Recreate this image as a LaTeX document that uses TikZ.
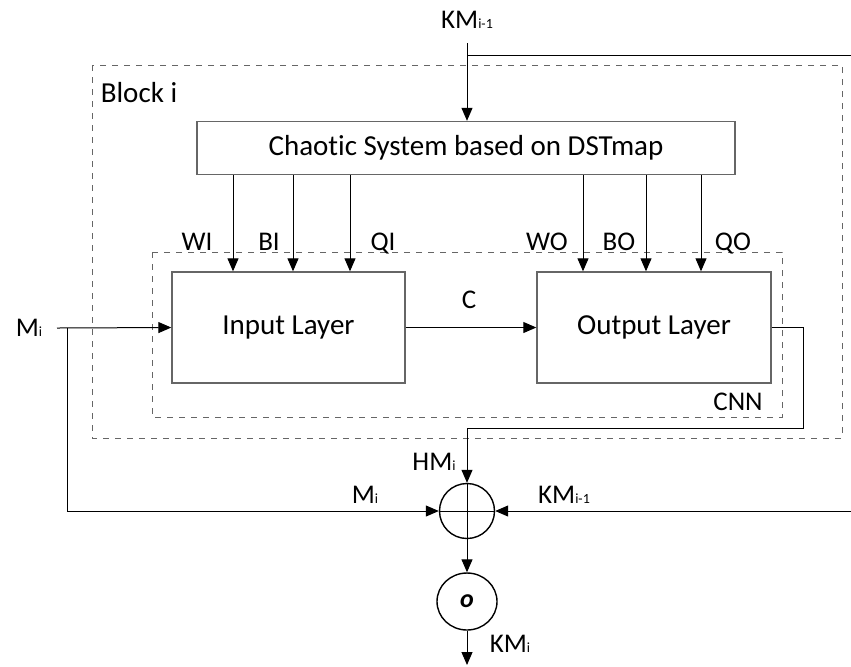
\documentclass[tikz,border=0pt]{standalone}
\usepackage{fontspec}
\setmainfont[RawFeature={-liga,-clig,-calt,-dlig}]{Carlito}
\usetikzlibrary{arrows.meta,shapes.geometric}

\newcommand{\subi}[1]{{\fontsize{7}{8}\selectfont #1}}

\tikzset{
  box/.style={draw=black!60, line width=0.7pt, rectangle, font=\fontsize{14.5}{17}\selectfont},
  group/.style={draw=black!60, dashed, line width=0.5pt},
  arr/.style={-{Triangle[length=6.5pt, width=5.5pt]}, line width=0.5pt},
  wire/.style={line width=0.5pt},
  lab/.style={font=\fontsize{13.5}{16}\selectfont, inner sep=0pt, anchor=base}
}

\begin{document}
\begin{tikzpicture}[x=0.5pt, y=-0.5pt]
  \useasboundingbox (0,0) rectangle (851,666);

  %% Dashed frames: Block i and CNN
  \draw[group] (92,65) rectangle (842,438);
  \draw[group] (152,252) rectangle (782,417);
  \node[lab, font=\fontsize{14.5}{17}\selectfont] (blk) at (139,102) {Block i};
  \node[lab] (cnnlab) at (738,410) {CNN};

  %% Boxes
  \node[box, minimum width=269pt, minimum height=26.5pt] (chaos) at (466,148) {Chaot\kern0pt ic System based on DSTmap};
  \node[box, minimum width=116.5pt, minimum height=55.5pt] (inl) at (288.5,327.5) {Input Layer};
  \node[box, minimum width=117pt, minimum height=55.5pt] (outl) at (654,327.5) {Output Layer};

  %% Combining nodes
  \node[draw, circle, line width=0.7pt, minimum size=27.5pt, inner sep=0pt] (xor) at (467,511) {};
  \draw[wire] (xor.north) -- (xor.south) (xor.west) -- (xor.east);
  \node[draw, ellipse, line width=0.7pt, minimum width=30pt, minimum height=28.5pt, inner sep=0pt,
        font=\fontsize{13}{15}\selectfont\bfseries\itshape] (oo) at (467,601.5) {o};

  %% Free ends
  \coordinate (kin) at (467,43);
  \coordinate (kright) at (851,55);
  \coordinate (min) at (57,328);
  \coordinate (mbr) at (67,328);
  \coordinate (kback) at (851,511);
  \coordinate (kout) at (467,665);
  \coordinate (hturn) at (803,428);

  %% Key input from the top
  \draw[arr] (kin) -- (kin |- chaos.north);
  \draw[wire] (kin |- kright) -- (kright);
  \node[lab] (kmtop) at (467,28) {KM\subi{i-1}};

  %% Parameters from the chaotic system
  \foreach \x in {233,293,350}
    \draw[arr] (chaos.south -| \x,0) -- (inl.north -| \x,0);
  \foreach \x in {583,646,701}
    \draw[arr] (chaos.south -| \x,0) -- (outl.north -| \x,0);
  \node[lab] (wi) at (197,250) {WI};
  \node[lab] (bi) at (269,250) {BI};
  \node[lab] (qi) at (383,250) {QI};
  \node[lab] (wo) at (547,250) {WO};
  \node[lab] (bo) at (619,250) {BO};
  \node[lab] (qo) at (733,250) {QO};

  %% Data path
  \draw[arr] (min) -- (inl.west);
  \node[lab] (mleft) at (29,336) {M\subi{i}};
  \draw[arr] (inl.east) -- (outl.west);
  \node[lab] (clab) at (469,308) {C};
  \draw[arr] (outl.east) -| (hturn) -| (xor.north);
  \node[lab] (hm) at (434,470) {HM\subi{i}};
  \draw[arr] (mbr) |- (xor.west);
  \node[lab] (mlow) at (365,503) {M\subi{i}};
  \draw[arr] (kback) -- (xor.east);
  \node[lab] (kmlow) at (564,503) {KM\subi{i-1}};

  %% Output
  \draw[arr] (xor.south) -- (oo.north);
  \draw[arr] (oo.south) -- (kout);
  \node[lab] (kmout) at (510,652) {KM\subi{i}};
\end{tikzpicture}
\end{document}
